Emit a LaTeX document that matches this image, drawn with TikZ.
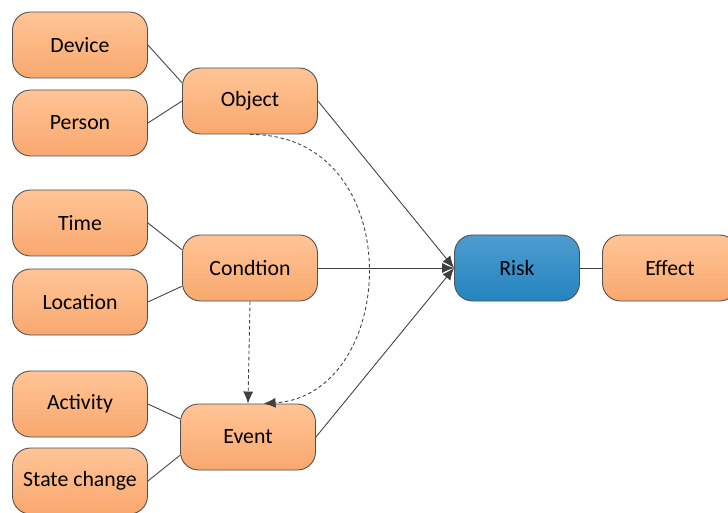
\documentclass[tikz,border=0pt]{standalone}
\usepackage{fontspec}
\setmainfont{Carlito}
\usetikzlibrary{arrows.meta}

\definecolor{boxline}{RGB}{80,80,80}
\definecolor{wireline}{RGB}{64,64,64}
\definecolor{orangetop}{RGB}{255,196,150}
\definecolor{orangebot}{RGB}{249,168,110}
\definecolor{bluetop}{RGB}{78,156,206}
\definecolor{bluebot}{RGB}{36,132,192}

\tikzset{
    item/.style={draw=boxline, line width=0.5pt, rounded corners=0.36cm,
        minimum width=2.7cm, minimum height=1.32cm, inner sep=0pt,
        top color=orangetop, bottom color=orangebot,
        font=\fontsize{12.4}{14}\selectfont},
    riskbox/.style={item, minimum width=2.5cm,
        top color=bluetop, bottom color=bluebot},
    wire/.style={draw=wireline, line width=0.5pt},
    arrow/.style={wire, -{Latex[length=2.4mm, width=2mm]}},
    dasharrow/.style={arrow, dash pattern=on 2pt off 1.5pt}
}

\begin{document}
\begin{tikzpicture}
    \useasboundingbox (0, 0) rectangle (14.56, -10.26);

    % object and its inputs
    \node[item] (device) at (1.6, -0.9) {Device};
    \node[item] (person) at (1.6, -2.46) {Person};
    \node[item] (object) at (5.0, -2.02) {Object};

    % condition and its inputs
    \node[item] (time) at (1.6, -4.46) {Time};
    \node[item] (location) at (1.6, -6.04) {Location};
    \node[item] (condtion) at (5.0, -5.36) {Condtion};

    % event and its inputs
    \node[item] (activity) at (1.6, -8.08) {Activity};
    \node[item] (statechange) at (1.6, -9.62) {State change};
    \node[item] (event) at (4.96, -8.74) {Event};

    % risk, effect
    \node[riskbox] (risk) at (10.34, -5.36) {Risk};
    \node[item] (effect) at (13.4, -5.36) {Effect};

    % inputs to object, condition, event
    \draw[wire] (device.east) -- (object.165);
    \draw[wire] (person.east) -- (object.west);
    \draw[wire] (time.east) -- (condtion.165);
    \draw[wire] (location.east) -- (condtion.195);
    \draw[wire] (activity.east) -- (event.165);
    \draw[wire] (statechange.east) -- (event.195);

    % connections to risk
    \draw[arrow] (object.east) -- (risk.west);
    \draw[arrow] (condtion.east) -- (risk.west);
    \draw[arrow] (event.east) -- (risk.west);
    \draw[wire] (risk.east) -- (effect.west);

    % dashed links to event
    \draw[dasharrow] (condtion.south) -- (event.north);
    \draw[dasharrow] (object.south) .. controls (8.2, -2.68) and (8.0, -7.9) .. (event.65);
\end{tikzpicture}
\end{document}
